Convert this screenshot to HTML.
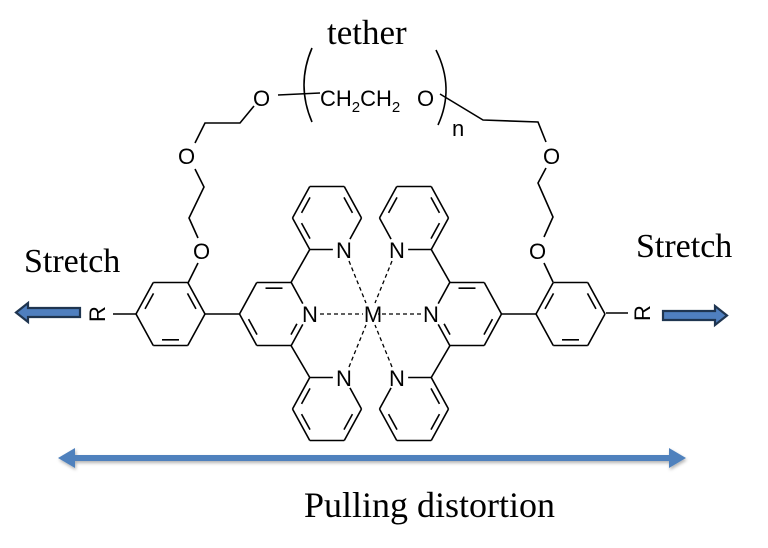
<!DOCTYPE html>
<html><head><meta charset="utf-8"><style>
html,body{margin:0;padding:0;background:#fff;}
svg{display:block}
.b{stroke:#000;stroke-width:1.6;fill:none}
.d{stroke:#000;stroke-width:1.3;fill:none;stroke-dasharray:4 3}
.a{font-family:"Liberation Sans",sans-serif;font-size:22px;fill:#000}
.s{font-family:"Liberation Serif",serif;fill:#000}
</style></head><body>
<svg id="s" width="768" height="548" viewBox="0 0 768 548" xmlns="http://www.w3.org/2000/svg">
<defs>
<filter id="sh" x="-5%" y="-50%" width="110%" height="200%"><feDropShadow dx="1" dy="2" stdDeviation="1.5" flood-color="#000" flood-opacity="0.3"/></filter>
</defs>
<g id="g"></g>
<!-- tether -->
<polyline class="b" points="188,283 198,263"/>
<polyline class="b" points="198,238 189,218 204,187 195,169"/>
<polyline class="b" points="195,143 205,123 240,123 254,106"/>
<line class="b" x1="278" y1="95" x2="320" y2="93"/>
<path class="b" d="M312,48 Q296,85 312,122"/>
<path class="b" d="M436,50 Q455,88 438,125"/>
<polyline class="b" points="553,282 544,263"/>
<polyline class="b" points="544,237 553,217 538,183 546,168"/>
<polyline class="b" points="546,142 538,122 483,120 440,94"/>
<text class="a" x="193" y="259">O</text>
<text class="a" x="178" y="164">O</text>
<text class="a" x="253" y="106">O</text>
<text class="a" x="529" y="259">O</text>
<text class="a" x="543" y="164">O</text>
<text class="a" x="320" y="106">CH<tspan font-size="15" dy="6">2</tspan><tspan dy="-6">CH</tspan><tspan font-size="15" dy="6">2</tspan></text>
<text class="a" x="417" y="106">O</text>
<text class="a" x="452" y="136" font-size="16">n</text>
<text class="s" x="327" y="44" font-size="35">tether</text>
<text class="s" x="24" y="272" font-size="34">Stretch</text>
<text class="s" x="636" y="257" font-size="34">Stretch</text>
<text class="s" x="304" y="517" font-size="36">Pulling distortion</text>
<!-- R -->
<line class="b" x1="113" y1="314" x2="136" y2="314"/>
<line class="b" x1="606" y1="313" x2="628" y2="313"/>
<text class="a" transform="translate(97,314) rotate(-90)" text-anchor="middle" y="8">R</text>
<text class="a" transform="translate(642,313) rotate(-90)" text-anchor="middle" y="8">R</text>
<!-- stretch arrows -->
<path d="M80,308 L28,308 L28,303 L16,312.5 L28,322 L28,317 L80,317 Z" fill="#4f7fbf" stroke="#1f3550" stroke-width="2.2"/>
<path d="M663,311 L715,311 L715,306 L727,315.5 L715,325 L715,320 L663,320 Z" fill="#4f7fbf" stroke="#1f3550" stroke-width="2.2"/>
<!-- pulling arrow -->
<g filter="url(#sh)">
<line x1="68" y1="458" x2="676" y2="458" stroke="#4f81bd" stroke-width="6"/>
<path d="M58,458 L75,448 L75,468 Z" fill="#4f81bd"/>
<path d="M686,458 L669,448 L669,468 Z" fill="#4f81bd"/>
</g>
</svg>
<script>
var g=document.getElementById('g'),NS='http://www.w3.org/2000/svg';
function ln(x1,y1,x2,y2,c){var e=document.createElementNS(NS,'line');e.setAttribute('x1',x1);e.setAttribute('y1',y1);e.setAttribute('x2',x2);e.setAttribute('y2',y2);e.setAttribute('class',c||'b');g.appendChild(e);}
function tx(x,y,t){var e=document.createElementNS(NS,'text');e.setAttribute('x',x);e.setAttribute('y',y);e.setAttribute('class','a');e.setAttribute('text-anchor','middle');e.textContent=t;g.appendChild(e);}
var M=741;
function V(cx,cy,i,mir){var r=34.5,h=31.5;var p=[[r,0],[r/2,h],[-r/2,h],[-r,0],[-r/2,-h],[r/2,-h]][i];var x=cx+p[0];return [mir?M-x:x,cy+p[1]];}
function hex(cx,cy,dbl,skip,mir){
 var C=[mir?M-cx:cx,cy];
 for(var i=0;i<6;i++){var j=(i+1)%6;var a=V(cx,cy,i,mir),b=V(cx,cy,j,mir);
  var sa=skip.indexOf(i)>=0,sb=skip.indexOf(j)>=0;
  var ax=a[0],ay=a[1],bx=b[0],by=b[1];
  if(sa){ax=a[0]+(b[0]-a[0])*0.33;ay=a[1]+(b[1]-a[1])*0.33;}
  if(sb){bx=b[0]+(a[0]-b[0])*0.33;by=b[1]+(a[1]-b[1])*0.33;}
  ln(ax,ay,bx,by);
  if(dbl.indexOf(i)>=0){var k=0.2,f=0.82;
   var p1=[a[0]+(C[0]-a[0])*(1-f),a[1]+(C[1]-a[1])*(1-f)],p2=[b[0]+(C[0]-b[0])*(1-f),b[1]+(C[1]-b[1])*(1-f)];
   var q1=[p1[0]+(p2[0]-p1[0])*k,p1[1]+(p2[1]-p1[1])*k],q2=[p2[0]+(p1[0]-p2[0])*k,p2[1]+(p1[1]-p2[1])*k];
   if(sa)q1=[p1[0]+(p2[0]-p1[0])*0.38,p1[1]+(p2[1]-p1[1])*0.38];
   if(sb)q2=[p2[0]+(p1[0]-p2[0])*0.38,p2[1]+(p1[1]-p2[1])*0.38];
   ln(q1[0],q1[1],q2[0],q2[1]);}
 }
}
[false,true].forEach(function(m){
 function X(x){return m?M-x:x;}
 hex(170.5,314,[3,5,1],[],m);
 hex(274,314,[4,2,0],[0],m);
 hex(327,218,[2,3,5],[1],m);
 hex(327,409,[2,0,3],[5],m);
 ln(X(205),314,X(239.5),314);
 ln(X(291),282.5,X(309.75),249.5);
 ln(X(291),345.5,X(309.75),377.5);
 tx(X(310),322,'N');tx(X(344),258,'N');tx(X(344),386,'N');
 ln(X(320),314,X(363),314,'d');
 ln(X(349),261,X(366),303,'d');
 ln(X(349),367,X(366),325,'d');
});
tx(373,322,'M');
</script>
</body></html>
